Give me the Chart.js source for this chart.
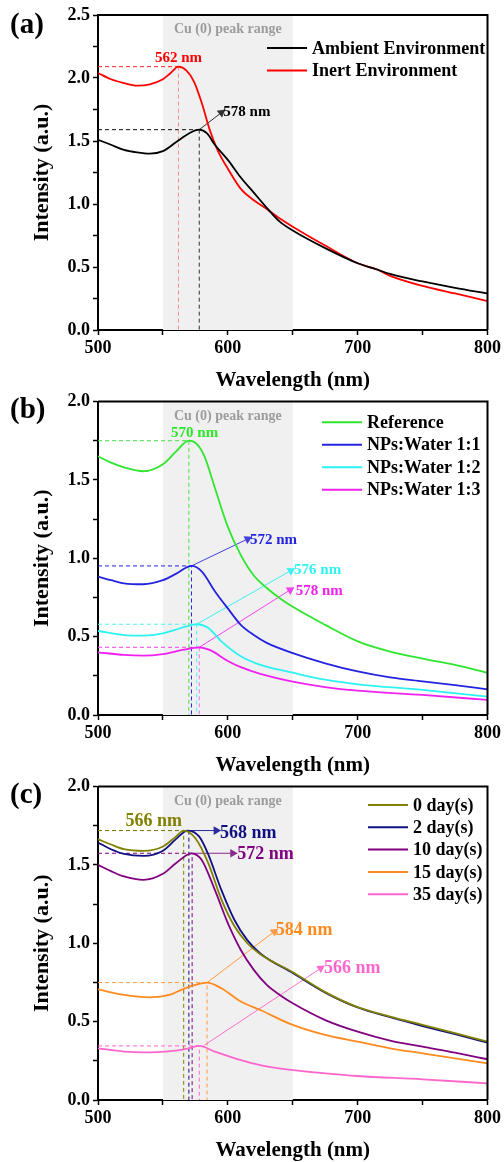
<!DOCTYPE html>
<html>
<head>
<meta charset="utf-8">
<script src="https://cdn.jsdelivr.net/npm/chart.js@4.4.1/dist/chart.umd.min.js"></script>
<style>
html, body { margin: 0; padding: 0; background: #fff; overflow: hidden; }
#wrap { position: relative; width: 504px; height: 1162px; }
canvas { position: absolute; left: 0; }
</style>
</head>
<body>
<div id="wrap">
  <canvas id="pa" width="504" height="395" style="top:0px"></canvas>
  <canvas id="pb" width="504" height="395" style="top:385px"></canvas>
  <canvas id="pc" width="504" height="395" style="top:770px"></canvas>
</div>
<script>
const FONT = '"Liberation Serif", "Times New Roman", serif';

// ---- (a) ambient vs inert ----
const ambientWl = [500, 510, 520, 530, 540, 550, 560, 570, 578, 584, 590, 600, 610, 620, 630, 640, 650, 675, 700, 715, 725, 750, 775, 800];
const ambientI  = [1.51, 1.47, 1.43, 1.41, 1.40, 1.42, 1.49, 1.56, 1.59, 1.56, 1.47, 1.35, 1.21, 1.09, 0.97, 0.86, 0.79, 0.65, 0.53, 0.48, 0.445, 0.385, 0.335, 0.29];
const inertWl = [500, 510, 520, 530, 540, 550, 556, 562, 568, 574, 580, 586, 592, 600, 610, 620, 630, 640, 650, 675, 700, 715, 725, 750, 775, 800];
const inertI  = [2.04, 1.99, 1.96, 1.94, 1.95, 1.99, 2.04, 2.09, 2.06, 1.97, 1.80, 1.59, 1.43, 1.28, 1.12, 1.03, 0.96, 0.885, 0.82, 0.67, 0.53, 0.48, 0.43, 0.35, 0.29, 0.23];
const inertPeak = [562, 2.09];
const ambientPeak = [578, 1.59];

// ---- (b) dilution ----
const refWl = [500, 510, 520, 535, 550, 560, 570, 576, 582, 590, 600, 610, 620, 630, 640, 650, 675, 700, 725, 750, 775, 800];
const refI  = [1.65, 1.61, 1.58, 1.555, 1.60, 1.68, 1.75, 1.73, 1.65, 1.45, 1.20, 1.02, 0.89, 0.81, 0.745, 0.69, 0.575, 0.47, 0.405, 0.36, 0.32, 0.27];
const w11Wl = [500, 510, 520, 535, 550, 560, 572, 580, 590, 600, 610, 620, 630, 650, 675, 700, 725, 750, 775, 800];
const w11I  = [0.883, 0.86, 0.84, 0.834, 0.86, 0.90, 0.951, 0.915, 0.79, 0.68, 0.575, 0.51, 0.46, 0.395, 0.33, 0.278, 0.24, 0.215, 0.19, 0.164];
const w12Wl = [500, 520, 535, 550, 560, 568, 576, 585, 595, 610, 625, 650, 675, 700, 750, 800];
const w12I  = [0.536, 0.51, 0.506, 0.52, 0.545, 0.565, 0.579, 0.555, 0.47, 0.375, 0.32, 0.27, 0.225, 0.196, 0.16, 0.117];
const w13Wl = [500, 520, 535, 550, 565, 578, 586, 600, 610, 625, 650, 675, 700, 750, 800];
const w13I  = [0.40, 0.383, 0.379, 0.389, 0.415, 0.432, 0.415, 0.345, 0.305, 0.262, 0.213, 0.178, 0.155, 0.128, 0.096];
const refPeak = [570, 1.75];
const w11Peak = [572, 0.951];
const w12Peak = [576, 0.579];
const w13Peak = [578, 0.432];

// ---- (c) ageing ----
const d0Wl = [500, 510, 520, 535, 550, 560, 566, 575, 585, 595, 605, 615, 625, 650, 675, 700, 725, 750, 775, 800];
const d0I  = [1.664, 1.63, 1.60, 1.589, 1.617, 1.68, 1.719, 1.67, 1.51, 1.28, 1.11, 1.0, 0.93, 0.815, 0.688, 0.592, 0.532, 0.479, 0.426, 0.372];
const d2Wl = [500, 510, 520, 535, 550, 560, 569, 578, 585, 595, 605, 615, 625, 650, 675, 700, 725, 750, 775, 800];
const d2I  = [1.643, 1.60, 1.57, 1.557, 1.59, 1.664, 1.719, 1.68, 1.565, 1.34, 1.15, 1.02, 0.935, 0.81, 0.685, 0.59, 0.528, 0.472, 0.42, 0.366];
const d10Wl = [500, 510, 520, 535, 550, 560, 572, 580, 590, 600, 610, 620, 630, 640, 650, 675, 700, 725, 750, 775, 800];
const d10I  = [1.50, 1.46, 1.426, 1.404, 1.443, 1.51, 1.574, 1.53, 1.34, 1.128, 0.957, 0.83, 0.734, 0.67, 0.617, 0.51, 0.436, 0.379, 0.34, 0.302, 0.26];
const d15Wl = [500, 520, 540, 555, 565, 575, 584, 595, 610, 625, 650, 675, 700, 725, 750, 775, 800];
const d15I  = [0.706, 0.67, 0.655, 0.67, 0.706, 0.734, 0.749, 0.713, 0.628, 0.574, 0.479, 0.415, 0.372, 0.33, 0.298, 0.266, 0.234];
const d35Wl = [500, 520, 540, 560, 570, 578, 590, 610, 625, 650, 675, 700, 750, 800];
const d35I  = [0.33, 0.309, 0.304, 0.315, 0.33, 0.345, 0.309, 0.255, 0.223, 0.191, 0.17, 0.153, 0.132, 0.106];
const d0Peak = [566, 1.719];
const d2Peak = [570, 1.719];
const d10Peak = [572.5, 1.574];
const d15Peak = [584, 0.749];
const d35Peak = [578, 0.345];

const bandRange = [550, 650];
const xLabelTicks = [500, 600, 700, 800];

function pts(xs, ys) { return xs.map((x, i) => ({ x: x, y: ys[i] })); }

function curve(label, color, xs, ys) {
  return { label: label, data: pts(xs, ys), borderColor: color, borderWidth: 1.8,
    pointRadius: 0, cubicInterpolationMode: 'monotone', fill: false, isSeries: true };
}

function guide(color, vColor, peak) {
  return { data: [{ x: 500, y: peak[1] }, { x: peak[0], y: peak[1] }, { x: peak[0], y: 0 }],
    borderColor: color, borderWidth: 1, borderDash: [4, 3], pointRadius: 0, tension: 0,
    segment: { borderColor: c => c.p0DataIndex === 1 ? vColor : color } };
}

function arrow(color, from, to) {
  return { data: [{ x: from[0], y: from[1] }, { x: to[0], y: to[1] }],
    borderColor: color, backgroundColor: color, borderWidth: 1, tension: 0,
    pointRadius: [0, 5], pointBorderWidth: 0, pointStyle: 'triangle',
    pointRotation: ctx => {
      const d = ctx.dataset.data, sx = ctx.chart.scales.x, sy = ctx.chart.scales.y;
      const dx = sx.getPixelForValue(d[1].x) - sx.getPixelForValue(d[0].x);
      const dy = sy.getPixelForValue(d[1].y) - sy.getPixelForValue(d[0].y);
      return Math.atan2(dx, -dy) * 180 / Math.PI;
    } };
}

const decor = {
  id: 'decor',
  beforeDatasetsDraw(chart) {
    const { ctx, chartArea: a, scales: { x } } = chart;
    const x0 = x.getPixelForValue(bandRange[0]), x1 = x.getPixelForValue(bandRange[1]);
    ctx.save();
    ctx.fillStyle = '#f0f0f0';
    ctx.fillRect(x0, a.top, x1 - x0, a.bottom - a.top);
    ctx.fillStyle = '#9c9c9c';
    ctx.font = 'bold 14px ' + FONT;
    ctx.textAlign = 'center';
    ctx.textBaseline = 'middle';
    ctx.fillText('Cu (0) peak range', (x0 + x1) / 2, a.top + 14.5);
    ctx.restore();
  },
  afterDraw(chart, args, o) {
    const { ctx, chartArea: a, scales: { x, y } } = chart;
    ctx.save();
    // frame
    ctx.strokeStyle = '#000';
    ctx.lineWidth = 2;
    ctx.beginPath();
    ctx.moveTo(a.left, a.top);
    ctx.lineTo(a.right, a.top);
    ctx.lineTo(a.right, a.bottom);
    ctx.stroke();
    // panel letter
    ctx.fillStyle = '#000';
    ctx.font = 'bold 29px ' + FONT;
    ctx.textAlign = 'left';
    ctx.textBaseline = 'middle';
    ctx.fillText(o.letter, 10, 26);
    // legend
    ctx.font = 'bold 18px ' + FONT;
    chart.data.datasets.filter(d => d.isSeries).forEach((d, i) => {
      const ly = o.legend.y + i * o.legend.gap;
      ctx.strokeStyle = d.borderColor;
      ctx.lineWidth = 2;
      ctx.beginPath();
      ctx.moveTo(o.legend.x, ly);
      ctx.lineTo(o.legend.x + 40, ly);
      ctx.stroke();
      ctx.fillStyle = '#000';
      ctx.fillText(d.label, o.legend.x + 45, ly + 1);
    });
    // peak notes
    o.notes.forEach(n => {
      ctx.font = 'bold ' + n.size + 'px ' + FONT;
      ctx.fillStyle = n.color;
      ctx.textAlign = n.align;
      ctx.fillText(n.text, x.getPixelForValue(n.at[0]), y.getPixelForValue(n.at[1]));
    });
    ctx.restore();
  }
};

function makePanel(p) {
  const datasets = p.series.concat(p.arrows, p.guides);
  return new Chart(document.getElementById(p.el), {
    type: 'line',
    data: { datasets: datasets },
    plugins: [decor],
    options: {
      responsive: false,
      animation: false,
      devicePixelRatio: 1,
      layout: { padding: { top: p.top, right: 15, left: 0, bottom: 0 } },
      plugins: { legend: { display: false }, tooltip: { enabled: false },
        decor: { letter: p.letter, legend: p.legend, notes: p.notes } },
      scales: {
        x: {
          type: 'linear', min: 500, max: 800,
          afterFit: s => { s.height = 65; },
          ticks: { stepSize: 50, padding: 3, color: '#000', font: { family: FONT, size: 18, weight: 'bold' },
            callback: v => xLabelTicks.includes(v) ? String(v) : '' },
          grid: { drawOnChartArea: false, tickLength: 5, tickWidth: 1.5, tickColor: '#000' },
          border: { display: true, color: '#000', width: 2 },
          title: { display: true, text: 'Wavelength (nm)', color: '#000',
            font: { family: FONT, size: 21, weight: 'bold' }, padding: { top: 0, bottom: 1.4 } }
        },
        y: {
          min: 0, max: p.yMax,
          afterFit: s => { s.width = 98; },
          ticks: { stepSize: 0.25, padding: 3, color: '#000', font: { family: FONT, size: 18, weight: 'bold' },
            callback: v => Math.abs(v * 2 - Math.round(v * 2)) < 1e-6 ? v.toFixed(1) : '' },
          grid: { drawOnChartArea: false, tickLength: 5, tickWidth: 1.5, tickColor: '#000' },
          border: { display: true, color: '#000', width: 2 },
          title: { display: true, text: 'Intensity (a.u.)', color: '#000',
            font: { family: FONT, size: 22, weight: 'bold' }, padding: { top: 29, bottom: 0 } }
        }
      }
    }
  });
}

makePanel({
  el: 'pa', yMax: 2.5, top: 15, letter: '(a)',
  series: [curve('Ambient Environment', '#000000', ambientWl, ambientI),
           curve('Inert Environment', '#ff0000', inertWl, inertI)],
  guides: [guide('#ff2020', '#ff8a8a', inertPeak), guide('#111111', '#333333', ambientPeak)],
  arrows: [arrow('#333333', ambientPeak, [595, 1.725])],
  notes: [{ text: '562 nm', color: '#ff0000', at: [562, 2.16], align: 'center', size: 15 },
          { text: '578 nm', color: '#000000', at: [596.5, 1.73], align: 'left', size: 15 }],
  legend: { x: 267, y: 48, gap: 22.5 }
});

makePanel({
  el: 'pb', yMax: 2.0, top: 16.5, letter: '(b)',
  series: [curve('Reference', '#2ee62e', refWl, refI),
           curve('NPs:Water 1:1', '#2424e0', w11Wl, w11I),
           curve('NPs:Water 1:2', '#2ef2f2', w12Wl, w12I),
           curve('NPs:Water 1:3', '#f020f0', w13Wl, w13I)],
  guides: [guide('#44e044', '#44e044', refPeak), guide('#2424e0', '#2424e0', w11Peak),
           guide('#50f0f0', '#50f0f0', w12Peak), guide('#f040f0', '#f070f0', w13Peak)],
  arrows: [arrow('#4040e0', w11Peak, [615.3, 1.123]),
           arrow('#40f0f0', w12Peak, [648.5, 0.921]),
           arrow('#f040f0', w13Peak, [648, 0.798])],
  notes: [{ text: '570 nm', color: '#2ee62e', at: [574.4, 1.80], align: 'center', size: 15 },
          { text: '572 nm', color: '#2424e0', at: [617, 1.113], align: 'left', size: 15 },
          { text: '576 nm', color: '#2ef2f2', at: [651, 0.926], align: 'left', size: 15 },
          { text: '578 nm', color: '#f020f0', at: [652.3, 0.79], align: 'left', size: 15 }],
  legend: { x: 322, y: 37.3, gap: 22.5 }
});

makePanel({
  el: 'pc', yMax: 2.0, top: 16.5, letter: '(c)',
  series: [curve('0 day(s)', '#808000', d0Wl, d0I),
           curve('2 day(s)', '#101080', d2Wl, d2I),
           curve('10 day(s)', '#800080', d10Wl, d10I),
           curve('15 day(s)', '#ff8a1e', d15Wl, d15I),
           curve('35 day(s)', '#ff66cc', d35Wl, d35I)],
  guides: [guide('#808000', '#808000', d0Peak), guide('#101080', '#101080', d2Peak),
           guide('#800080', '#800080', d10Peak), guide('#ff9a40', '#ff9a40', d15Peak),
           guide('#ff66cc', '#ff66cc', d35Peak)],
  arrows: [arrow('#2a2a9a', d2Peak, [591, 1.719]),
           arrow('#8a2a8a', d10Peak, [603.8, 1.574]),
           arrow('#ff9a40', d15Peak, [635.7, 1.074]),
           arrow('#ff70cc', [582, 0.35], [671.5, 0.84])],
  notes: [{ text: '566 nm', color: '#808000', at: [543, 1.777], align: 'center', size: 18 },
          { text: '568 nm', color: '#101080', at: [594, 1.70], align: 'left', size: 18 },
          { text: '572 nm', color: '#800080', at: [607.3, 1.564], align: 'left', size: 18 },
          { text: '584 nm', color: '#ff8a1e', at: [637, 1.08], align: 'left', size: 18 },
          { text: '566 nm', color: '#ff66cc', at: [674, 0.84], align: 'left', size: 18 }],
  legend: { x: 368, y: 35, gap: 22.3 }
});
</script>
</body>
</html>
